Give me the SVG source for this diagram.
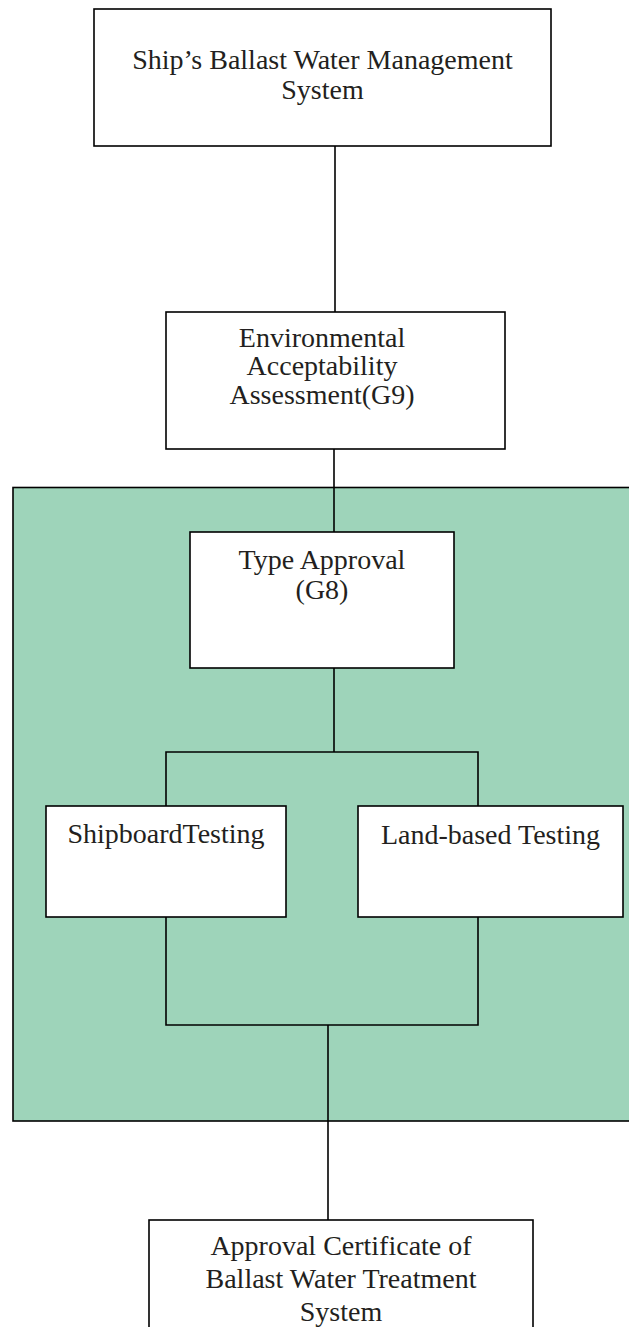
<svg xmlns="http://www.w3.org/2000/svg" width="629" height="1327" viewBox="0 0 629 1327">
<style>
.box{fill:#ffffff;stroke:#000000;stroke-width:1.6}
.t{font-family:"Liberation Serif","Times New Roman",serif;font-size:28px;fill:#231f20;text-anchor:middle}
.ln{fill:none;stroke:#000000;stroke-width:1.6}
</style>
<rect width="629" height="1327" fill="#ffffff"/>
<g id="region">
<rect x="13" y="487.5" width="630" height="633.5" fill="#9ed4ba" stroke="#000000" stroke-width="1.6"/>
</g>
<g id="connectors">
<line class="ln" x1="335" y1="146" x2="335" y2="312"/>
<line class="ln" x1="334" y1="449" x2="334" y2="532"/>
<line class="ln" x1="334" y1="668" x2="334" y2="752"/>
<polyline class="ln" points="166,806 166,752 478,752 478,806"/>
<polyline class="ln" points="166,917 166,1025 478,1025 478,917"/>
<line class="ln" x1="328" y1="1025" x2="328" y2="1220"/>
</g>
<g id="node-ship">
<rect class="box" x="94" y="9" width="457" height="137"/>
<text class="t" x="322.5" y="69">Ship’s Ballast Water Management</text>
<text class="t" x="322.5" y="99">System</text>
</g>
<g id="node-env">
<rect class="box" x="166" y="312" width="339" height="137"/>
<text class="t" x="322" y="347">Environmental</text>
<text class="t" x="322" y="375">Acceptability</text>
<text class="t" x="322" y="404">Assessment(G9)</text>
</g>
<g id="node-type">
<rect class="box" x="190" y="532" width="264" height="136"/>
<text class="t" x="322" y="569">Type Approval</text>
<text class="t" x="322" y="599">(G8)</text>
</g>
<g id="node-shipboard">
<rect class="box" x="46" y="806" width="240" height="111"/>
<text class="t" x="166" y="843">ShipboardTesting</text>
</g>
<g id="node-land">
<rect class="box" x="358" y="806" width="265" height="111"/>
<text class="t" x="490.5" y="844">Land-based Testing</text>
</g>
<g id="node-cert">
<rect class="box" x="149" y="1220" width="384" height="130"/>
<text class="t" x="341" y="1255">Approval Certificate of</text>
<text class="t" x="341" y="1288">Ballast Water Treatment</text>
<text class="t" x="341" y="1321">System</text>
</g>
</svg>
